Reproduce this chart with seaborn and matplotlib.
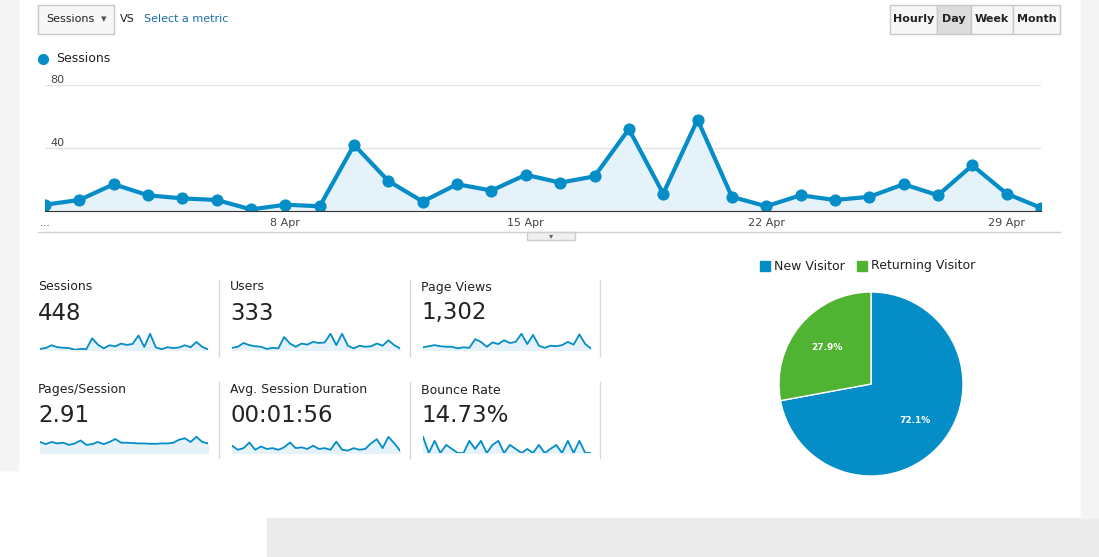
import pandas as pd
import matplotlib.pyplot as plt
import seaborn as sns
from matplotlib.patches import Rectangle

# data
days = list(range(1, 31))
sessions = [4, 7, 17, 10, 8, 7, 1, 4, 3, 42, 19, 6, 17, 13, 23, 18, 22, 52, 11, 58,
            9, 3, 10, 7, 9, 17, 10, 29, 11, 2]
users = [4, 6, 13, 9, 7, 6, 2, 4, 3, 24, 12, 6, 12, 10, 15, 13, 14, 30, 9, 30,
         8, 3, 8, 6, 7, 12, 8, 18, 9, 3]
page_views = [10, 14, 18, 14, 12, 12, 6, 10, 8, 40, 30, 12, 28, 22, 36, 26, 30, 60, 22, 56,
              16, 8, 16, 14, 18, 30, 20, 58, 22, 6]
pages_session = [3.0, 2.4, 3.0, 2.6, 2.8, 2.2, 2.6, 3.4, 2.2, 2.4, 3.0, 2.4, 3.0, 3.8, 2.8, 2.8, 2.7, 2.6, 2.6, 2.5,
                 2.5, 2.6, 2.6, 2.8, 3.6, 4.0, 3.0, 4.4, 3.0, 2.6]
duration = [90, 40, 60, 130, 40, 80, 50, 60, 40, 70, 130, 60, 70, 50, 90, 50, 60, 40, 140, 40,
            30, 60, 40, 50, 120, 170, 60, 200, 120, 30]
bounce = [40, 0, 30, 0, 20, 10, 0, 0, 30, 10, 30, 0, 20, 30, 0, 20, 10, 0, 10, 0,
          20, 0, 10, 20, 0, 30, 0, 30, 0, 0]
tick_days = [1, 8, 15, 22, 29]
tick_labels = ["...", "8 Apr", "15 Apr", "22 Apr", "29 Apr"]
tiles = [("Sessions", "448", sessions), ("Users", "333", users), ("Page Views", "1,302", page_views),
         ("Pages/Session", "2.91", pages_session), ("Avg. Session Duration", "00:01:56", duration),
         ("Bounce Rate", "14.73%", bounce)]
visitor_types = ["New Visitor", "Returning Visitor"]
visitor_share = [72.1, 27.9]

W, H = 1099, 557
BLUE = "#058dc7"
GREEN = "#50b432"
TXT = "#222222"

def box(x, y, w, h):
    return [x / W, 1 - (y + h) / H, w / W, h / H]

fig = plt.figure(figsize=(W / 100, H / 100), dpi=100)
bg = fig.add_axes([0, 0, 1, 1])
bg.set_xlim(0, W)
bg.set_ylim(H, 0)
bg.axis("off")
bg.add_patch(Rectangle((267, 518), W - 267, 40, color="#ebebeb"))
bg.add_patch(Rectangle((1081, 0), 18, 518, color="#f4f4f4"))
bg.add_patch(Rectangle((0, 0), 18, 470, color="#f4f4f4"))

# top controls
bg.add_patch(Rectangle((38, 5), 76, 29, fc="#f7f7f7", ec="#c8c8c8"))
bg.text(46, 19, "Sessions", fontsize=8, va="center", color=TXT)
bg.text(104, 19, "▾", fontsize=8, va="center", ha="center", color="#555555")
bg.text(120, 19, "VS", fontsize=8, va="center", color=TXT)
bg.text(144, 19, "Select a metric", fontsize=8, va="center", color="#1a6ea8")
for (lab, x0, x1) in [("Hourly", 890, 937), ("Day", 937, 971), ("Week", 971, 1013), ("Month", 1013, 1060)]:
    bg.add_patch(Rectangle((x0, 5), x1 - x0, 29, fc="#dcdcdc" if lab == "Day" else "#f7f7f7", ec="#c8c8c8"))
    bg.text((x0 + x1) / 2, 19, lab, fontsize=8, ha="center", va="center", color=TXT, fontweight="bold")

bg.plot(43, 59, "o", color=BLUE, ms=7)
bg.text(56, 59, "Sessions", fontsize=9, va="center", color=TXT)
bg.plot([38, 1060], [232, 232], color="#d0d0d0", lw=1)
bg.add_patch(Rectangle((527, 232), 48, 8, fc="#f0f0f0", ec="#cccccc"))
bg.text(551, 236, "▾", fontsize=6, ha="center", va="center", color="#666666")

# main line chart
df = pd.DataFrame({"day": days, "sessions": sessions})
ax = fig.add_axes(box(45, 85, 996, 126))
ax.fill_between(days, sessions, color="#e6f2f9")
sns.lineplot(data=df, x="day", y="sessions", ax=ax, color=BLUE, lw=3, marker="o", ms=8, mec=BLUE)
ax.set_xlim(1, 30)
ax.set_ylim(0, 80)
ax.set_yticks([40, 80])
ax.axhline(40, color="#e4e4e4", lw=1, zorder=0)
ax.axhline(80, color="#e4e4e4", lw=1, zorder=0)
ax.tick_params(axis="y", length=0, labelsize=8, pad=-14, labelcolor="#444444")
for lbl in ax.get_yticklabels():
    lbl.set_verticalalignment("bottom")
ax.set_xticks(tick_days)
ax.set_xticklabels(tick_labels, fontsize=8, color="#444444")
ax.tick_params(axis="x", length=0, pad=5)
ax.set_xlabel("")
ax.set_ylabel("")
for s in ["top", "left", "right"]:
    ax.spines[s].set_visible(False)
ax.spines["bottom"].set_color("#333333")
ax.patch.set_alpha(0)

# metric tiles
xs = [38, 230, 421]
rows = [(287, 313, 333), (390, 416, 436)]
for i, (name, val, series) in enumerate(tiles):
    col, row = i % 3, i // 3
    ly, vy, sy = rows[row]
    x = xs[col]
    bg.text(x, ly, name, fontsize=9, va="center", color=TXT)
    bg.text(x, vy, val, fontsize=16.5, va="center", color=TXT)
    sa = fig.add_axes(box(x + 2, sy, 168, 17))
    sa.fill_between(days, series, color="#e6f2f9")
    sns.lineplot(x=days, y=series, ax=sa, color=BLUE, lw=1.3)
    sa.set_xlim(1, 30)
    sa.set_ylim(0, max(series) * 1.05)
    sa.axis("off")
for x in [219, 410, 600]:
    bg.plot([x, x], [280, 356], color="#d8d8d8", lw=1)
    bg.plot([x, x], [382, 458], color="#d8d8d8", lw=1)

# pie chart
pa = fig.add_axes(box(779, 292, 184, 184))
pa.pie(visitor_share, colors=[BLUE, GREEN], startangle=90, counterclock=False,
       autopct="%.1f%%", pctdistance=0.62, radius=1,
       wedgeprops=dict(edgecolor="white", linewidth=1),
       textprops=dict(color="white", fontsize=6.5, fontweight="bold"))
pa.set_xlim(-1, 1)
pa.set_ylim(-1, 1)
pa.set_aspect("equal")
for lab, x, c in [(visitor_types[0], 760, BLUE), (visitor_types[1], 857, GREEN)]:
    bg.add_patch(Rectangle((x, 261), 10, 10, color=c))
    bg.text(x + 14, 266, lab, fontsize=9, va="center", color=TXT)

fig.savefig("out.png", dpi=100)
